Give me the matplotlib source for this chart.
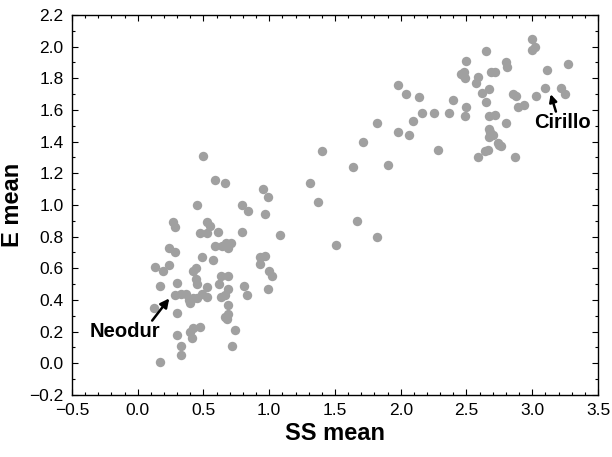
import matplotlib
matplotlib.use("Agg")
import matplotlib.pyplot as plt
from matplotlib.ticker import MultipleLocator, FuncFormatter

plt.rcParams["font.family"] = ["Liberation Sans", "DejaVu Sans"]

# SS mean / E mean values
ss_high = [3.00, 3.00, 3.02, 2.65, 2.50, 2.80, 2.81, 3.27, 3.11, 2.47,
           2.48, 2.49, 2.46, 2.59, 2.57, 2.69, 2.72, 1.98, 3.10, 3.22,
           3.25, 2.67, 2.62, 2.85, 2.88, 3.03, 2.04, 2.14, 2.40, 2.65,
           2.89, 2.94, 2.50, 2.09, 2.16, 2.25, 2.37, 2.49, 2.67, 2.72,
           1.82, 2.80, 2.67, 2.68, 1.98, 2.06, 2.67, 2.70, 1.71, 2.74,
           2.76, 2.75, 2.28, 2.64, 2.66, 1.40, 2.59, 2.87, 1.90, 1.64,
           1.31, 1.37, 1.67, 1.82, 1.51]
e_high = [2.05, 1.98, 2.00, 1.97, 1.91, 1.90, 1.87, 1.89, 1.85, 1.82,
          1.84, 1.80, 1.83, 1.81, 1.77, 1.84, 1.84, 1.76, 1.74, 1.74,
          1.70, 1.73, 1.71, 1.70, 1.69, 1.69, 1.70, 1.68, 1.66, 1.65,
          1.62, 1.63, 1.62, 1.53, 1.58, 1.58, 1.58, 1.56, 1.56, 1.57,
          1.52, 1.52, 1.48, 1.46, 1.46, 1.44, 1.43, 1.44, 1.40, 1.39,
          1.37, 1.38, 1.35, 1.34, 1.35, 1.34, 1.30, 1.30, 1.25, 1.24,
          1.14, 1.02, 0.90, 0.80, 0.75]

ss_low = [0.50, 0.59, 0.66, 0.95, 0.99, 0.45, 0.79, 0.84, 0.97, 0.27,
          0.28, 0.53, 0.55, 0.47, 0.53, 0.61, 0.79, 1.08, 0.59, 0.64,
          0.67, 0.69, 0.71, 0.24, 0.28, 0.49, 0.93, 0.97, 0.93, 0.57,
          0.13, 0.24, 0.19, 0.44, 0.42, 1.00, 1.02, 0.63, 0.69, 0.62,
          0.44, 0.45, 0.30, 0.17, 0.53, 0.53, 0.81, 0.69, 0.99, 0.28,
          0.33, 0.37, 0.39, 0.40, 0.42, 0.45, 0.49, 0.63, 0.66, 0.83,
          0.12, 0.69, 0.30, 0.69, 0.66, 0.68, 0.40, 0.42, 0.47, 0.30,
          0.41, 0.74, 0.33, 0.72, 0.33, 0.17]
e_low = [1.31, 1.16, 1.14, 1.10, 1.05, 1.00, 1.00, 0.96, 0.94, 0.89,
         0.86, 0.89, 0.87, 0.82, 0.82, 0.83, 0.83, 0.81, 0.74, 0.74,
         0.76, 0.73, 0.76, 0.73, 0.70, 0.67, 0.67, 0.68, 0.63, 0.65,
         0.61, 0.62, 0.58, 0.60, 0.58, 0.58, 0.55, 0.55, 0.55, 0.50,
         0.53, 0.50, 0.51, 0.49, 0.48, 0.42, 0.49, 0.47, 0.47, 0.43,
         0.44, 0.44, 0.40, 0.38, 0.41, 0.41, 0.44, 0.42, 0.43, 0.43,
         0.35, 0.37, 0.32, 0.31, 0.29, 0.28, 0.20, 0.22, 0.23, 0.18,
         0.16, 0.21, 0.11, 0.11, 0.05, 0.01]

ss_mean = ss_high + ss_low
e_mean = e_high + e_low

fig = plt.figure(figsize=(6.12, 4.57), dpi=100)
ax = fig.add_axes([0.1176, 0.1357, 0.8595, 0.8315])

ax.scatter(ss_mean, e_mean, s=46, color="#a0a0a0", linewidths=0, zorder=2)

fmt = FuncFormatter(lambda v, p: ("%.1f" % v).replace("-", "\u2212"))
ax.set_xlim(-0.5, 3.5)
ax.set_ylim(-0.2, 2.2)
ax.xaxis.set_major_locator(MultipleLocator(0.5))
ax.xaxis.set_minor_locator(MultipleLocator(0.1))
ax.yaxis.set_major_locator(MultipleLocator(0.2))
ax.yaxis.set_minor_locator(MultipleLocator(0.1))
ax.xaxis.set_major_formatter(fmt)
ax.yaxis.set_major_formatter(fmt)
ax.tick_params(which="both", direction="in", top=True, right=True,
               labelsize=12.5, width=0.8)
ax.tick_params(which="major", length=4, pad=6)
ax.tick_params(which="minor", length=2)
for sp in ax.spines.values():
    sp.set_linewidth(1.0)

ax.set_xlabel("SS mean", fontsize=17, fontweight="bold", labelpad=3)
ax.set_ylabel("E mean", fontsize=17, fontweight="bold", labelpad=4)

# Etiquettes + flèches
ax.text(-0.1, 0.20, "Neodur", fontsize=14.5, fontweight="bold",
        ha="center", va="center")
ax.annotate("", xy=(0.24, 0.41), xytext=(0.11, 0.27),
            arrowprops=dict(arrowstyle="-|>", color="black", lw=1.8,
                            mutation_scale=13, shrinkA=0, shrinkB=0))
ax.text(3.23, 1.52, "Cirillo", fontsize=14.5, fontweight="bold",
        ha="center", va="center")
ax.annotate("", xy=(3.14, 1.70), xytext=(3.18, 1.59),
            arrowprops=dict(arrowstyle="-|>", color="black", lw=1.8,
                            mutation_scale=11, shrinkA=0, shrinkB=0))

plt.savefig("out.png", dpi=100)
